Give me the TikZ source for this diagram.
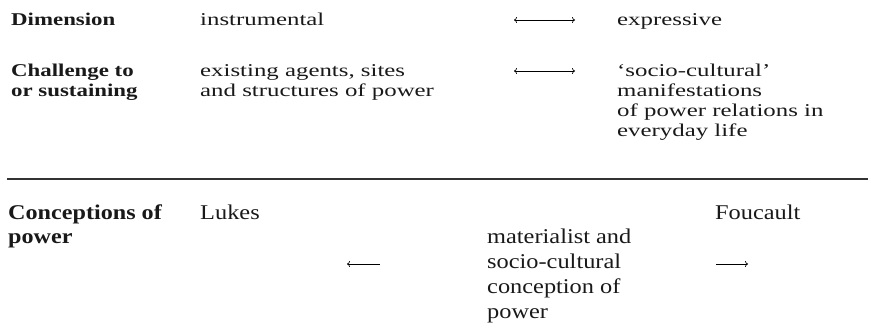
\documentclass[tikz,border=0pt]{standalone}
\usepackage{fontspec}
\setmainfont{Liberation Serif}
\newfontfamily\topreg{Liberation Serif}[FakeStretch=1.38]
\newfontfamily\topbold{Liberation Serif}[UprightFont=* Bold, FakeStretch=1.27]
\newfontfamily\botreg{Liberation Serif}[FakeStretch=1.16]
\newfontfamily\botbold{Liberation Serif}[UprightFont=* Bold, FakeStretch=1.15]
\usetikzlibrary{arrows.meta}
\newcommand\stacklines[1]{\begin{tabular}[t]{@{}l@{}}#1\end{tabular}}
\tikzset{
  lbl/.style={anchor=base west, inner sep=0pt, text=black!90},
  topr/.style={lbl, font=\topreg\fontsize{18}{20}\selectfont},
  topb/.style={lbl, font=\topbold\fontsize{18}{20}\selectfont},
  botr/.style={lbl, font=\botreg\fontsize{21}{25}\selectfont},
  botb/.style={lbl, font=\botbold\fontsize{21}{24.5}\selectfont},
  arr/.style={line width=0.7pt, -{To[length=3pt,width=6pt]}},
  larr/.style={line width=0.7pt, {To[length=3pt,width=6pt]}-},
  darr/.style={line width=0.7pt, {To[length=3pt,width=6pt]}-{To[length=3pt,width=6pt]}},
  rulestyle/.style={line width=1.6pt, black!80},
}
\begin{document}
\begin{tikzpicture}[x=1pt,y=-1pt]
\useasboundingbox (0,0) rectangle (871,330);
% top block
\node[topb] (dim) at (11,25) {Dimension};
\node[topr] (instr) at (200,25) {instrumental};
\node[topr] (expr) at (617,25) {expressive};
\coordinate (d1a) at (514,20);
\coordinate (d1b) at (575,20);
\draw[darr] (d1a) -- (d1b);

\node[topb] (chal) at (11,76) {\stacklines{Challenge to\\or sustaining}};
\node[topr] (exist) at (200,76) {\stacklines{existing agents, sites\\and structures of power}};
\node[topr] (socio) at (617,76) {\stacklines{‘socio-cultural’\\manifestations\\of power relations in\\everyday life}};
\coordinate (d2a) at (514,71);
\coordinate (d2b) at (575,71);
\draw[darr] (d2a) -- (d2b);

% rule
\coordinate (r1) at (7,179);
\coordinate (r2) at (868,179);
\draw[rulestyle] (r1) -- (r2);

% bottom block
\node[botb] (conc) at (8,219) {\stacklines{Conceptions of\\power}};
\node[botr] (lukes) at (200,219) {Lukes};
\node[botr] (fouc) at (715,219) {Foucault};
\node[botr] (mat) at (487,243) {\stacklines{materialist and\\socio-cultural\\conception of\\power}};
\coordinate (la) at (347,264);
\coordinate (lb) at (380,264);
\draw[larr] (la) -- (lb);
\coordinate (ra) at (716,264);
\coordinate (rb) at (748,264);
\draw[arr] (ra) -- (rb);
\end{tikzpicture}
\end{document}
